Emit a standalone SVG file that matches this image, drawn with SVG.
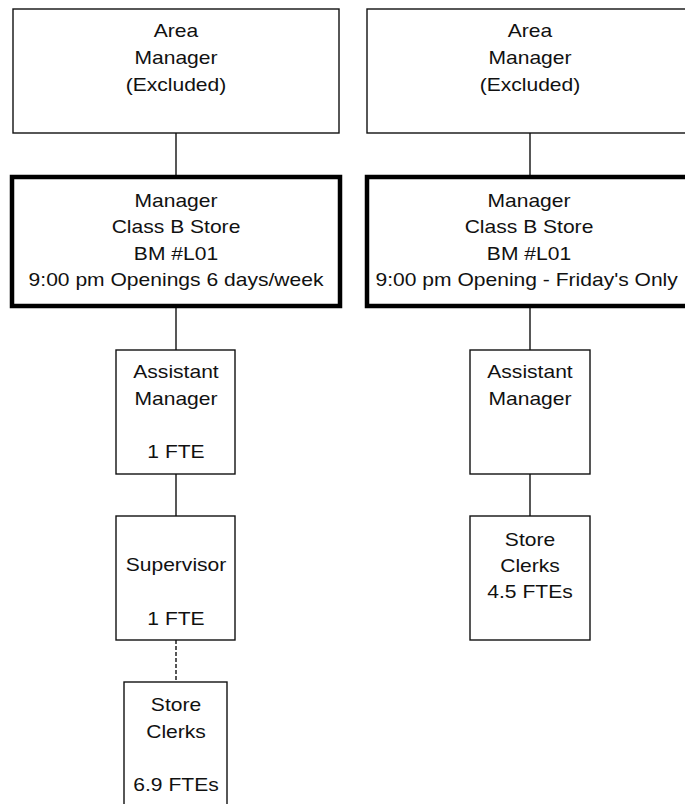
<svg xmlns="http://www.w3.org/2000/svg" width="685" height="804" viewBox="0 0 685 804">
<style>
.box{fill:#fff;stroke:#111;stroke-width:1.4}
.thick{fill:#fff;stroke:#000;stroke-width:4.5}
.conn{stroke:#111;stroke-width:1.4;fill:none}
.dash{stroke-dasharray:4 2}
text{font-family:"Liberation Sans",Arial,sans-serif;font-size:18px;fill:#111;text-anchor:middle}
</style>
<rect width="685" height="804" fill="#fff"/>
<g id="connectors">
<line class="conn" x1="176" y1="133" x2="176" y2="176"/>
<line class="conn" x1="176" y1="307" x2="176" y2="350"/>
<line class="conn" x1="176" y1="474" x2="176" y2="516"/>
<line class="conn dash" x1="176" y1="640" x2="176" y2="682"/>
<line class="conn" x1="530" y1="133" x2="530" y2="176"/>
<line class="conn" x1="530" y1="307" x2="530" y2="350"/>
<line class="conn" x1="530" y1="474" x2="530" y2="516"/>
</g>
<g id="area-manager-left">
<rect class="box" x="13" y="9" width="326" height="124"/>
<g transform="translate(176 0) scale(1.17 1)">
<text x="0" y="37">Area</text>
<text x="0" y="64.5">Manager</text>
<text x="0" y="91.5">(Excluded)</text>
</g>
</g>
<g id="manager-left">
<rect class="thick" x="12" y="177" width="328" height="129"/>
<g transform="translate(176 0) scale(1.17 1)">
<text x="0" y="207">Manager</text>
<text x="0" y="233.5">Class B Store</text>
<text x="0" y="260">BM #L01</text>
<text x="0" y="286.5">9:00 pm Openings 6 days/week</text>
</g>
</g>
<g id="assistant-left">
<rect class="box" x="116" y="350" width="119" height="124"/>
<g transform="translate(176 0) scale(1.17 1)">
<text x="0" y="378.5">Assistant</text>
<text x="0" y="405">Manager</text>
<text x="0" y="458.5">1 FTE</text>
</g>
</g>
<g id="supervisor-left">
<rect class="box" x="116" y="516" width="119" height="124"/>
<g transform="translate(176 0) scale(1.17 1)">
<text x="0" y="571.5">Supervisor</text>
<text x="0" y="625">1 FTE</text>
</g>
</g>
<g id="clerks-left">
<rect class="box" x="124" y="682" width="103" height="140"/>
<g transform="translate(176 0) scale(1.17 1)">
<text x="0" y="711.5">Store</text>
<text x="0" y="738">Clerks</text>
<text x="0" y="791.5">6.9 FTEs</text>
</g>
</g>
<g id="area-manager-right">
<rect class="box" x="367" y="9" width="326" height="124"/>
<g transform="translate(530 0) scale(1.17 1)">
<text x="0" y="37">Area</text>
<text x="0" y="64.5">Manager</text>
<text x="0" y="91.5">(Excluded)</text>
</g>
</g>
<g id="manager-right">
<rect class="thick" x="367" y="177" width="328" height="129"/>
<g transform="translate(529 0) scale(1.17 1)">
<text x="0" y="207">Manager</text>
<text x="0" y="233.5">Class B Store</text>
<text x="0" y="260">BM #L01</text>
<text x="-2" y="286.5">9:00 pm Opening - Friday's Only</text>
</g>
</g>
<g id="assistant-right">
<rect class="box" x="470" y="350" width="120" height="124"/>
<g transform="translate(530 0) scale(1.17 1)">
<text x="0" y="378.5">Assistant</text>
<text x="0" y="405">Manager</text>
</g>
</g>
<g id="clerks-right">
<rect class="box" x="470" y="516" width="120" height="124"/>
<g transform="translate(530 0) scale(1.17 1)">
<text x="0" y="546">Store</text>
<text x="0" y="572">Clerks</text>
<text x="0" y="598">4.5 FTEs</text>
</g>
</g>
</svg>
